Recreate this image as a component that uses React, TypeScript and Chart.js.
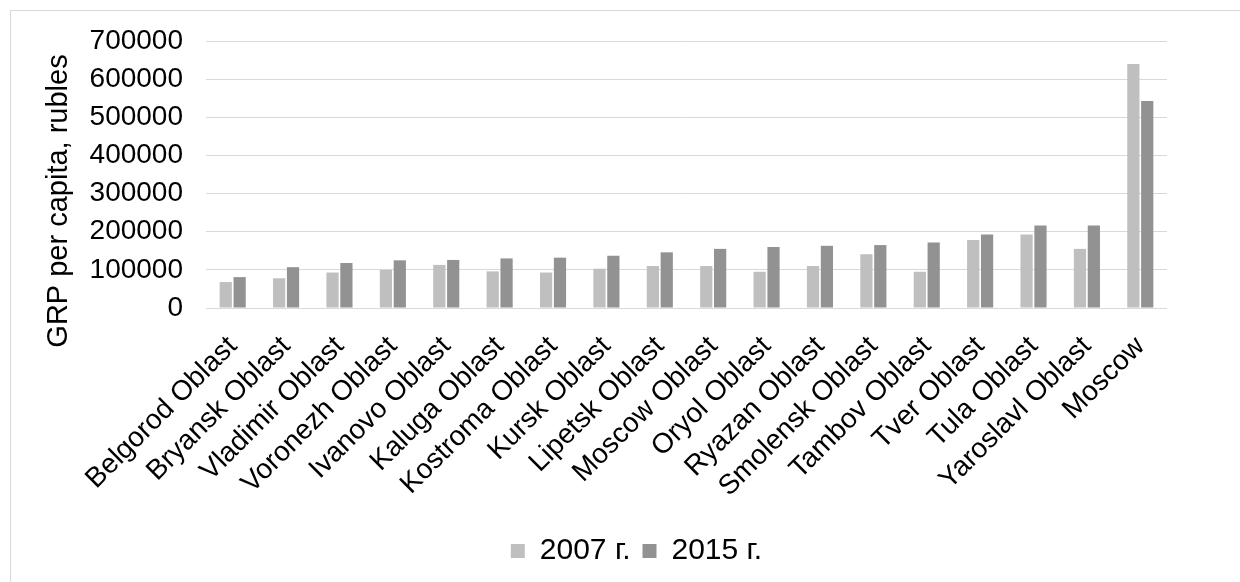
import React, { useEffect, useRef } from "react";
import { Chart, registerables } from "chart.js";

Chart.register(...registerables);

const categories = [
  "Belgorod Oblast",
  "Bryansk Oblast",
  "Vladimir Oblast",
  "Voronezh Oblast",
  "Ivanovo Oblast",
  "Kaluga Oblast",
  "Kostroma Oblast",
  "Kursk Oblast",
  "Lipetsk Oblast",
  "Moscow Oblast",
  "Oryol Oblast",
  "Ryazan Oblast",
  "Smolensk Oblast",
  "Tambov Oblast",
  "Tver Oblast",
  "Tula Oblast",
  "Yaroslavl Oblast",
  "Moscow",
];

const values2007 = [68000, 78000, 93000, 100000, 113000, 96000, 93000, 103000, 110000, 110000, 95000, 110000, 141000, 95000, 178000, 193000, 155000, 640000];
const values2015 = [81000, 107000, 118000, 125000, 126000, 130000, 132000, 137000, 146000, 155000, 160000, 163000, 165000, 172000, 193000, 216000, 216000, 543000];

const seriesLabels = ["2007 г.", "2015 г."];
const yTitle = "GRP per capita, rubles";

const FONT = "'Liberation Sans', Arial, sans-serif";
const FS = 28;

const frame = {
  id: "frame",
  beforeDraw(chart: any) {
    const ctx = chart.ctx;
    ctx.save();
    ctx.fillStyle = "#ffffff";
    ctx.fillRect(0, 0, chart.width, chart.height);
    ctx.strokeStyle = "#d9d9d9";
    ctx.lineWidth = 1;
    ctx.strokeRect(10.5, 10.5, chart.width + 10, chart.height + 10);
    ctx.restore();
  },
  afterLayout(chart: any) {
    const lg = chart.legend;
    if (lg) {
      lg.left += 13;
      lg.right += 13;
    }
  },
  afterDraw(chart: any) {
    const ctx = chart.ctx;
    ctx.save();
    ctx.translate(59, 201);
    ctx.rotate(-Math.PI / 2);
    ctx.font = `29px ${FONT}`;
    ctx.fillStyle = "#000";
    ctx.textAlign = "center";
    ctx.textBaseline = "middle";
    ctx.fillText(yTitle, 0, 0);
    ctx.restore();
  },
};

export default function App() {
  const ref = useRef<HTMLCanvasElement | null>(null);
  useEffect(() => {
    if (!ref.current) return;
    const chart = new Chart(ref.current, {
      type: "bar",
      data: {
        labels: categories,
        datasets: [
          {
            label: seriesLabels[0],
            data: values2007,
            backgroundColor: "#bfbfbf",
            categoryPercentage: 0.52,
            barPercentage: 0.88,
          },
          {
            label: seriesLabels[1],
            data: values2015,
            backgroundColor: "#929292",
            categoryPercentage: 0.52,
            barPercentage: 0.88,
          },
        ],
      },
      options: {
        responsive: false,
        animation: false,
        layout: { padding: { left: 80, right: 73, top: 41, bottom: 6 } },
        plugins: {
          legend: {
            position: "bottom",
            labels: {
              font: { family: FONT, size: 30 },
              color: "#000",
              boxWidth: 14,
              boxHeight: 14,
              padding: 12,
            },
          },
          tooltip: { enabled: false },
        },
        scales: {
          x: {
            grid: { display: false, drawTicks: false },
            border: { display: false },
            ticks: {
              font: { family: FONT, size: FS },
              color: "#000",
              maxRotation: 45,
              minRotation: 45,
              padding: 22,
              autoSkip: false,
            },
            afterFit(scale: any) {
              scale.height = 216;
            },
          },
          y: {
            min: 0,
            max: 700000,
            grid: { color: "#d9d9d9", lineWidth: 1, drawTicks: false },
            border: { display: false },
            ticks: {
              stepSize: 100000,
              font: { family: FONT, size: FS },
              color: "#000",
              padding: 23,
              callback: (v: any) => String(v),
            },
            afterFit(scale: any) {
              scale.width = 126;
            },
          },
        },
      },
      plugins: [frame],
    });
    return () => chart.destroy();
  }, []);
  return (
    <div style={{ position: "absolute", left: 0, top: 0, width: 1240, height: 582 }}>
      <canvas ref={ref} width={1240} height={582} style={{ width: 1240, height: 582 }} />
    </div>
  );
}
